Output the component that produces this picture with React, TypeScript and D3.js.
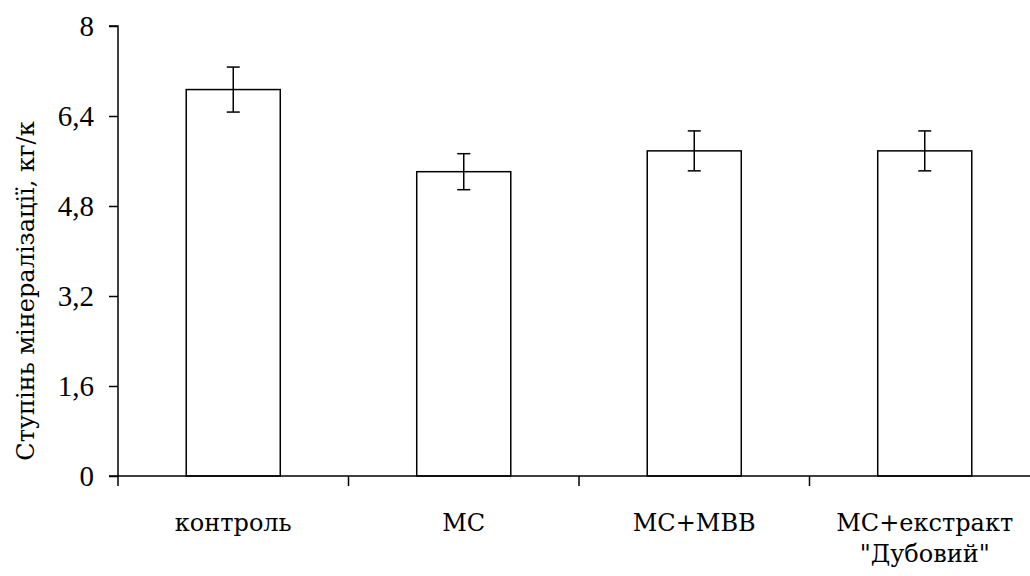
import { useEffect, useRef } from "react";
import * as d3 from "d3";

const CATEGORIES = ["контроль", "МС", "МС+МВВ", "МС+екстракт\n\"Дубовий\""];
const VALUES = [6.87, 5.41, 5.78, 5.78];
const ERRORS = [0.4, 0.32, 0.355, 0.355];
const Y_TICKS = [0, 1.6, 3.2, 4.8, 6.4, 8];
const Y_TITLE = "Ступінь мінералізації, кг/к";

const FONT = "'Liberation Serif', 'Times New Roman', serif";
// Liberation Serif has no Cyrillic here, so Cyrillic text uses DejaVu Serif a bit smaller
const FONT_CYR = "'DejaVu Serif', serif";
const FS = 29;
const FS_CYR = 24;

function App() {
  const ref = useRef<SVGSVGElement>(null);

  useEffect(() => {
    const svg = d3.select(ref.current);
    svg.selectAll("*").remove();

    const width = 1030;
    const height = 576;
    const margin = { top: 26, left: 118, bottom: 100 };
    const y0 = height - margin.bottom;
    const catW = 230.5;

    const x = d3
      .scaleBand<number>()
      .domain(d3.range(CATEGORIES.length))
      .range([margin.left, margin.left + catW * CATEGORIES.length])
      .paddingInner(0.592)
      .paddingOuter(0.296);

    const y = d3.scaleLinear().domain([0, 8]).range([y0, margin.top]);

    // bars
    svg
      .append("g")
      .selectAll("rect")
      .data(VALUES)
      .join("rect")
      .attr("x", (_, i) => x(i)!)
      .attr("y", (d) => y(d))
      .attr("width", x.bandwidth())
      .attr("height", (d) => y0 - y(d))
      .attr("fill", "#fff")
      .attr("stroke", "#000")
      .attr("stroke-width", 1.5);

    // error bars
    const eb = svg.append("g").attr("stroke", "#000").attr("stroke-width", 1.5);
    VALUES.forEach((v, i) => {
      const cx = x(i)! + x.bandwidth() / 2;
      const hi = y(v + ERRORS[i]);
      const lo = y(v - ERRORS[i]);
      eb.append("line").attr("x1", cx).attr("x2", cx).attr("y1", hi).attr("y2", lo);
      eb.append("line").attr("x1", cx - 6.5).attr("x2", cx + 6.5).attr("y1", hi).attr("y2", hi);
      eb.append("line").attr("x1", cx - 6.5).attr("x2", cx + 6.5).attr("y1", lo).attr("y2", lo);
    });

    // y axis
    const yAxis = svg
      .append("g")
      .attr("transform", `translate(${margin.left},0)`)
      .call(
        d3
          .axisLeft(y)
          .tickValues(Y_TICKS)
          .tickSize(9)
          .tickPadding(15)
          .tickFormat((d) => d3.format("")(d).replace(".", ","))
      );
    yAxis.select(".domain").attr("stroke-width", 1.5).attr("d", `M-9,${y(8)}H0V${y0}`);
    yAxis.selectAll(".tick line").attr("stroke-width", 1.5);
    yAxis
      .selectAll(".tick text")
      .style("font-family", FONT)
      .style("font-size", `${FS}px`)
      .attr("fill", "#000");

    // x axis
    const xg = svg.append("g").attr("transform", `translate(0,${y0})`);
    xg.append("line")
      .attr("x1", margin.left - 9)
      .attr("x2", margin.left + catW * CATEGORIES.length)
      .attr("stroke", "#000")
      .attr("stroke-width", 1.5);
    d3.range(CATEGORIES.length + 1).forEach((i) => {
      const tx = margin.left + catW * i;
      xg.append("line")
        .attr("x1", tx)
        .attr("x2", tx)
        .attr("y1", 0)
        .attr("y2", 10)
        .attr("stroke", "#000")
        .attr("stroke-width", 1.5);
    });
    CATEGORIES.forEach((c, i) => {
      const cx = x(i)! + x.bandwidth() / 2;
      const t = xg
        .append("text")
        .attr("x", cx)
        .attr("y", 55)
        .attr("text-anchor", "middle")
        .style("font-family", FONT_CYR)
        .style("font-size", `${FS_CYR}px`)
        .attr("fill", "#000");
      c.split("\n").forEach((line, j) => {
        t.append("tspan").attr("x", cx).attr("dy", j === 0 ? 0 : 31).text(line);
      });
    });

    // y title
    svg
      .append("text")
      .attr("transform", `translate(34,${(margin.top + y0) / 2 + 40}) rotate(-90)`)
      .attr("text-anchor", "middle")
      .style("font-family", FONT_CYR)
      .style("font-size", `${FS_CYR}px`)
      .attr("fill", "#000")
      .text(Y_TITLE);
  }, []);

  return (
    <svg
      ref={ref}
      width={1030}
      height={576}
      style={{ display: "block", position: "absolute", left: 0, top: 0, background: "#fff" }}
    />
  );
}

export default App;
